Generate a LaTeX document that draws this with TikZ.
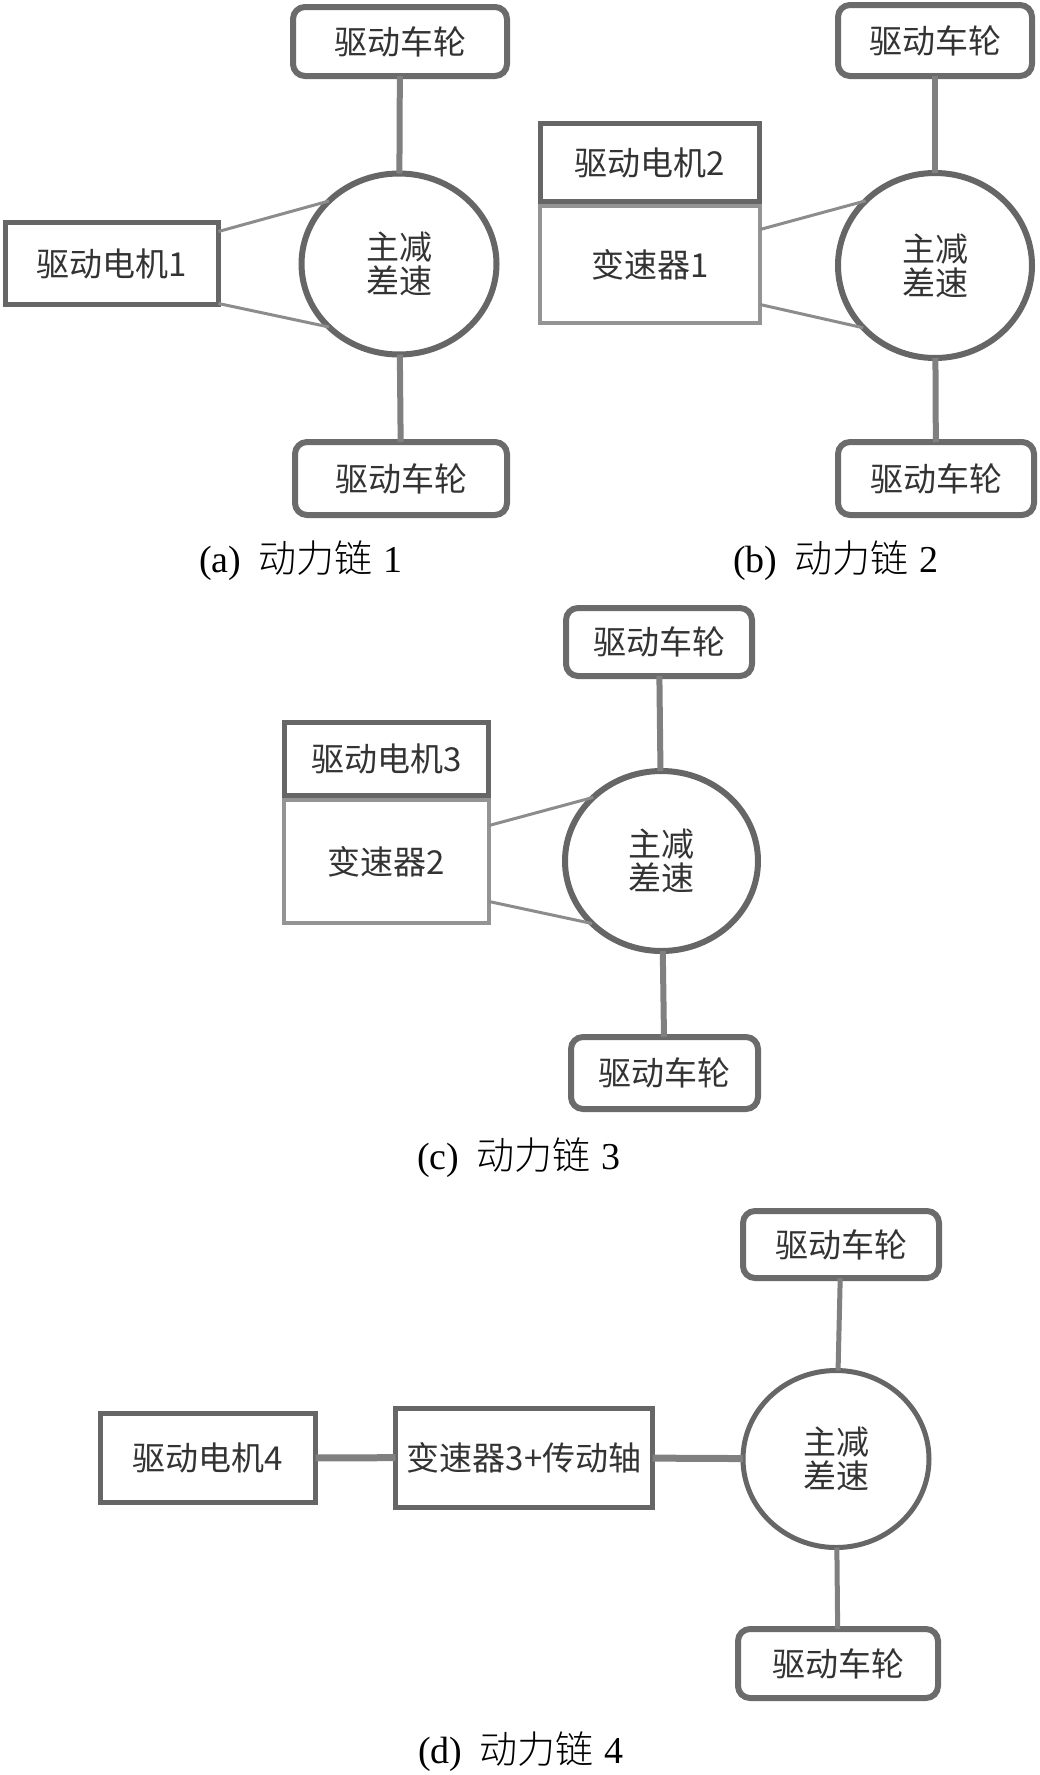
\documentclass[tikz,border=0pt]{standalone}
\usepackage{fontspec}
\setmainfont{Liberation Serif}
\newfontfamily\cjk{Noto Sans CJK SC}
\newfontfamily\cjklight{Noto Sans CJK SC Light}
\usetikzlibrary{shapes.geometric,calc}

\begin{document}
\begin{tikzpicture}[x=1pt,y=-1pt,
    every node/.style={inner sep=0pt, outer sep=0pt},
    boxtext/.style={text=black!80, font=\cjk\fontsize{33}{34}\selectfont},
    wheel/.style={boxtext, draw=black!58, line width=6pt, rounded corners=12pt, fill=white},
    darkbox/.style={boxtext, draw=black!60, line width=5pt, fill=white},
    lightbox/.style={boxtext, draw=black!42, line width=4pt, fill=white},
    diff/.style={boxtext, ellipse, draw=black!60, line width=6pt, fill=white, align=center},
    axle/.style={draw=black!50, line width=6pt},
    belt/.style={draw=black!45, line width=3pt},
    caption/.style={text=black, font=\fontsize{38}{40}\selectfont}]
    \useasboundingbox (0,0) rectangle (1040,1775);

    % (a) chain 1
    \node[wheel, minimum width=214, minimum height=69] (wa1) at (400,41.5) {驱动车轮};
    \node[diff, minimum width=195, minimum height=181] (da) at (399,264) {主减\\差速};
    \node[wheel, minimum width=212, minimum height=73] (wa2) at (401,478.5) {驱动车轮};
    \node[darkbox, minimum width=213, minimum height=82] (ma) at (112,263.5) {驱动电机1};
    \draw[axle] (wa1) -- (da);
    \draw[axle] (da) -- (wa2);
    \draw[belt] ($(ma.east)+(0,-32)$) -- (da.138);
    \draw[belt] ($(ma.east)+(0,40)$) -- (da.222);
    \node[caption] (capa) at (301,561) {(a)\hspace{0.45em}{\cjklight 动力链}\hspace{0.3em}1};

    % (b) chain 2
    \node[wheel, minimum width=194, minimum height=71] (wb1) at (935,40.5) {驱动车轮};
    \node[diff, minimum width=194, minimum height=185] (db) at (935,265.5) {主减\\差速};
    \node[wheel, minimum width=196, minimum height=73] (wb2) at (936,478.5) {驱动车轮};
    \node[lightbox, minimum width=220, minimum height=117] (gb) at (650,264.5) {变速器1};
    \node[darkbox, minimum width=219, minimum height=78] (mb) at (650,162.5) {驱动电机2};
    \draw[axle] (wb1) -- (db);
    \draw[axle] (db) -- (wb2);
    \draw[belt] ($(gb.east)+(0,-35)$) -- (db.137);
    \draw[belt] ($(gb.east)+(0,40)$) -- (db.221);
    \node[caption] (capb) at (836,561) {(b)\hspace{0.45em}{\cjklight 动力链}\hspace{0.3em}2};

    % (c) chain 3
    \node[wheel, minimum width=186, minimum height=68] (wc1) at (659,642) {驱动车轮};
    \node[diff, minimum width=193, minimum height=180] (dc) at (661.5,861) {主减\\差速};
    \node[wheel, minimum width=187, minimum height=72] (wc2) at (664.5,1073) {驱动车轮};
    \node[lightbox, minimum width=205, minimum height=123] (gc) at (386.5,861.5) {变速器2};
    \node[darkbox, minimum width=204, minimum height=73] (mc) at (386.5,759) {驱动电机3};
    \draw[axle] (wc1) -- (dc);
    \draw[axle] (dc) -- (wc2);
    \draw[belt] ($(gc.east)+(0,-36)$) -- (dc.137);
    \draw[belt] ($(gc.east)+(0,40)$) -- (dc.222);
    \node[caption] (capc) at (519,1158) {(c)\hspace{0.45em}{\cjklight 动力链}\hspace{0.3em}3};

    % (d) chain 4
    \node[wheel, minimum width=196, minimum height=67] (wd1) at (841,1244.5) {驱动车轮};
    \node[diff, line width=5pt, minimum width=186, minimum height=177] (dd) at (836,1459) {主减\\差速};
    \node[wheel, minimum width=200, minimum height=69] (wd2) at (838,1663.5) {驱动车轮};
    \node[darkbox, minimum width=215, minimum height=89] (md) at (208,1458) {驱动电机4};
    \node[darkbox, minimum width=257, minimum height=99] (gd) at (524,1457.5) {变速器3+传动轴};
    \draw[axle, line width=5pt] (wd1) -- (dd);
    \draw[axle, line width=5pt] (dd) -- (wd2);
    \draw[axle, line width=7pt] (md) -- (gd);
    \draw[axle, line width=7pt] (gd) -- (dd);
    \node[caption] (capd) at (521,1752) {(d)\hspace{0.45em}{\cjklight 动力链}\hspace{0.3em}4};
\end{tikzpicture}
\end{document}
